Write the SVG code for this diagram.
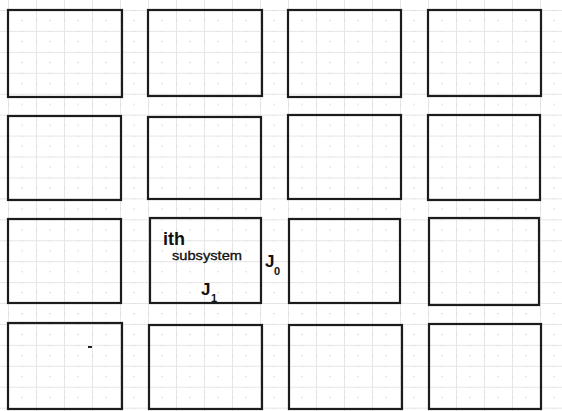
<svg xmlns="http://www.w3.org/2000/svg" width="562" height="411" viewBox="0 0 562 411">
<style>
.box{fill:none;stroke:#1c1c1c;stroke-width:2.2;stroke-linecap:square}
.lbl{font-family:"Liberation Sans",Arial,sans-serif;fill:#111}
.b{font-weight:bold}
</style>
<defs>
<pattern id="grid" patternUnits="userSpaceOnUse" x="8" y="10" width="28" height="20.93">
<line x1="0.5" y1="0" x2="0.5" y2="20.93" stroke="#e6e6e6" stroke-width="1"/>
<line x1="0" y1="0.5" x2="28" y2="0.5" stroke="#e6e6e6" stroke-width="1"/>
<rect x="13.5" y="10" width="1.2" height="1.2" fill="#cfcfcf"/>
<rect x="13.5" y="0" width="1.2" height="1.2" fill="#d6d6d6"/>
<rect x="0" y="10" width="1.2" height="1.2" fill="#d6d6d6"/>
</pattern>
</defs>
<rect width="562" height="411" fill="#fff"/>
<rect width="562" height="411" fill="url(#grid)"/>
<g id="connectors"/>
<g id="r1c1"><rect class="box" x="8" y="10" width="114" height="87"/></g>
<g id="r1c2"><rect class="box" x="148" y="10" width="114" height="86"/></g>
<g id="r1c3"><rect class="box" x="288" y="10" width="113" height="87"/></g>
<g id="r1c4"><rect class="box" x="428" y="10" width="113" height="86"/></g>
<g id="r2c1"><rect class="box" x="8" y="116" width="113" height="84"/></g>
<g id="r2c2"><rect class="box" x="148" y="117" width="113" height="82"/></g>
<g id="r2c3"><rect class="box" x="288" y="115" width="113" height="84"/></g>
<g id="r2c4"><rect class="box" x="428" y="115" width="112" height="85"/></g>
<g id="r3c1"><rect class="box" x="8" y="219" width="113" height="84"/></g>
<g id="ith"><rect class="box" x="150" y="218" width="111" height="85"/>
<text class="lbl b" x="163" y="245" font-size="19" textLength="22" lengthAdjust="spacingAndGlyphs">ith</text>
<text class="lbl" x="172" y="260" font-size="13.5" stroke="#111" stroke-width="0.35" textLength="70" lengthAdjust="spacingAndGlyphs">subsystem</text>
<text class="lbl b" x="201" y="295" font-size="17">J</text>
<text class="lbl b" x="211" y="302" font-size="11">1</text>
</g>
<g id="J0"><text class="lbl b" x="265" y="267" font-size="17">J</text>
<text class="lbl b" x="274" y="275" font-size="11">0</text></g>
<g id="r3c3"><rect class="box" x="289" y="219" width="111" height="84"/></g>
<g id="r3c4"><rect class="box" x="429" y="218" width="110" height="87"/></g>
<g id="r4c1"><rect class="box" x="8" y="323" width="114" height="86"/>
<rect x="88" y="346" width="4" height="2" fill="#222"/></g>
<g id="r4c2"><rect class="box" x="149" y="325" width="113" height="84"/></g>
<g id="r4c3"><rect class="box" x="289" y="325" width="113" height="84"/></g>
<g id="r4c4"><rect class="box" x="429" y="324" width="112" height="85"/></g>
</svg>
